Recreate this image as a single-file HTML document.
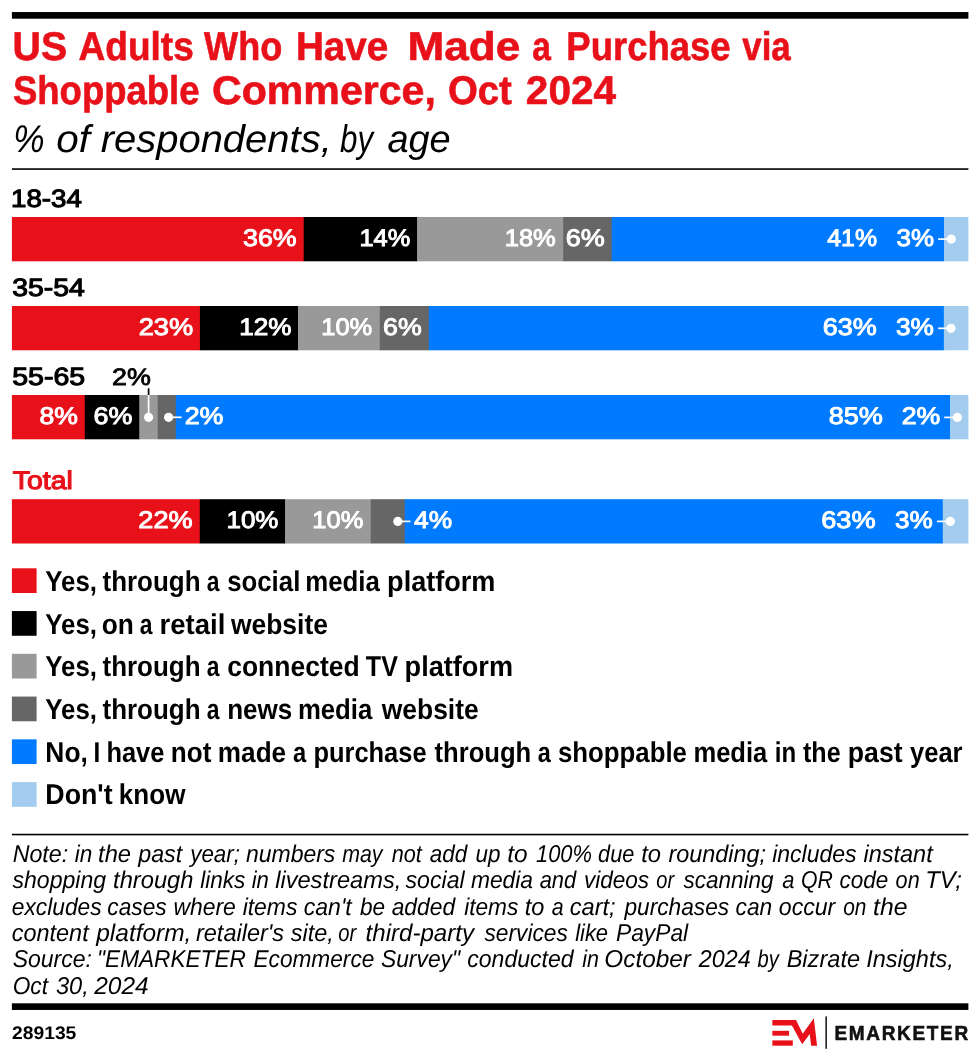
<!DOCTYPE html>
<html lang="en"><head><meta charset="utf-8"><title>US Adults Who Have Made a Purchase via Shoppable Commerce, Oct 2024</title>
<style>
html,body{margin:0;padding:0;background:#fff;}
svg{display:block;font-family:"Liberation Sans", sans-serif;}
text{white-space:pre;text-rendering:geometricPrecision;}
</style></head><body>
<svg width="980" height="1059" viewBox="0 0 980 1059">
<rect width="980" height="1059" fill="#fff"/>
<rect x="11.90" y="12.05" width="956.50" height="6.65" fill="#000"/>
<rect x="11.90" y="168.25" width="956.50" height="1.60" fill="#000"/>
<rect x="11.90" y="833.75" width="956.50" height="1.60" fill="#000"/>
<rect x="11.90" y="1003.30" width="956.50" height="6.65" fill="#000"/>
<rect x="11.90" y="217.00" width="292.11" height="44.30" fill="#e8111a"/>
<rect x="303.71" y="217.00" width="113.78" height="44.30" fill="#000"/>
<rect x="417.20" y="217.00" width="146.21" height="44.30" fill="#999999"/>
<rect x="563.10" y="217.00" width="48.94" height="44.30" fill="#666666"/>
<rect x="611.74" y="217.00" width="332.64" height="44.30" fill="#007bff"/>
<rect x="944.08" y="217.00" width="24.32" height="44.30" fill="#a3ccee"/>
<rect x="11.90" y="306.00" width="188.33" height="44.30" fill="#e8111a"/>
<rect x="199.93" y="306.00" width="98.40" height="44.30" fill="#000"/>
<rect x="298.03" y="306.00" width="82.05" height="44.30" fill="#999999"/>
<rect x="379.78" y="306.00" width="49.35" height="44.30" fill="#666666"/>
<rect x="428.84" y="306.00" width="515.34" height="44.30" fill="#007bff"/>
<rect x="943.87" y="306.00" width="24.53" height="44.30" fill="#a3ccee"/>
<rect x="11.90" y="395.00" width="73.18" height="44.30" fill="#e8111a"/>
<rect x="84.78" y="395.00" width="54.96" height="44.30" fill="#000"/>
<rect x="139.43" y="395.00" width="18.52" height="44.30" fill="#999999"/>
<rect x="157.65" y="395.00" width="18.52" height="44.30" fill="#666666"/>
<rect x="175.87" y="395.00" width="774.61" height="44.30" fill="#007bff"/>
<rect x="950.18" y="395.00" width="18.22" height="44.30" fill="#a3ccee"/>
<rect x="11.90" y="499.20" width="188.18" height="44.30" fill="#e8111a"/>
<rect x="199.78" y="499.20" width="85.70" height="44.30" fill="#000"/>
<rect x="285.19" y="499.20" width="85.70" height="44.30" fill="#999999"/>
<rect x="370.59" y="499.20" width="34.46" height="44.30" fill="#666666"/>
<rect x="404.75" y="499.20" width="538.33" height="44.30" fill="#007bff"/>
<rect x="942.78" y="499.20" width="25.62" height="44.30" fill="#a3ccee"/>
<line x1="938.10" y1="239.10" x2="951.30" y2="239.10" stroke="#fff" stroke-width="1.7"/>
<circle cx="951.30" cy="239.10" r="4.60" fill="#fff"/>
<line x1="938.10" y1="328.30" x2="951.00" y2="328.30" stroke="#fff" stroke-width="1.7"/>
<circle cx="951.00" cy="328.30" r="4.60" fill="#fff"/>
<line x1="148.60" y1="388.20" x2="148.60" y2="395.00" stroke="#000" stroke-width="1.7"/>
<line x1="148.60" y1="395.00" x2="148.60" y2="417.30" stroke="#fff" stroke-width="1.7"/>
<circle cx="148.60" cy="417.30" r="4.60" fill="#fff"/>
<line x1="168.60" y1="417.30" x2="181.60" y2="417.30" stroke="#fff" stroke-width="1.7"/>
<circle cx="168.60" cy="417.30" r="4.60" fill="#fff"/>
<line x1="944.20" y1="417.40" x2="957.40" y2="417.40" stroke="#fff" stroke-width="1.7"/>
<circle cx="957.40" cy="417.40" r="4.60" fill="#fff"/>
<line x1="397.80" y1="521.40" x2="410.50" y2="521.40" stroke="#fff" stroke-width="1.7"/>
<circle cx="397.80" cy="521.40" r="4.60" fill="#fff"/>
<line x1="937.00" y1="521.40" x2="950.30" y2="521.40" stroke="#fff" stroke-width="1.7"/>
<circle cx="950.30" cy="521.40" r="4.60" fill="#fff"/>
<rect x="11.90" y="568.30" width="24.70" height="24.70" fill="#e8111a"/>
<rect x="11.90" y="611.06" width="24.70" height="24.70" fill="#000"/>
<rect x="11.90" y="653.82" width="24.70" height="24.70" fill="#999999"/>
<rect x="11.90" y="696.58" width="24.70" height="24.70" fill="#666666"/>
<rect x="11.90" y="739.34" width="24.70" height="24.70" fill="#007bff"/>
<rect x="11.90" y="782.10" width="24.70" height="24.70" fill="#a3ccee"/>
<polygon fill="#e8111a" points="772.35,1020.04 796.02,1020.04 802.71,1033.67 813.82,1018.16 817.08,1045.67 811.12,1045.67 809.73,1034.08 802.14,1044.29 791.94,1025.51 772.35,1025.51"/>
<rect x="772.35" y="1030.80" width="16.75" height="4.90" fill="#e8111a"/>
<rect x="772.35" y="1040.40" width="20.45" height="5.30" fill="#e8111a"/>
<rect x="825.40" y="1016.40" width="1.50" height="32.40" fill="#111"/>
<text transform="translate(12.55 60.10) scale(0.9779 1)" style="font-size:40.11px;font-weight:bold;" fill="#e8111a" stroke="#e8111a" stroke-width="0.6">US </text>
<text transform="translate(78.50 60.10) scale(0.9235 1)" style="font-size:40.11px;font-weight:bold;" fill="#e8111a" stroke="#e8111a" stroke-width="0.6">Adults </text>
<text transform="translate(204.07 60.10) scale(0.8996 1)" style="font-size:40.11px;font-weight:bold;" fill="#e8111a" stroke="#e8111a" stroke-width="0.6">Who </text>
<text transform="translate(295.88 60.10) scale(0.9625 1)" style="font-size:40.11px;font-weight:bold;" fill="#e8111a" stroke="#e8111a" stroke-width="0.6">Have </text>
<text transform="translate(407.57 60.10) scale(1.0992 1)" style="font-size:40.11px;font-weight:bold;" fill="#e8111a" stroke="#e8111a" stroke-width="0.6">Made </text>
<text transform="translate(532.23 60.10) scale(0.8343 1)" style="font-size:40.11px;font-weight:bold;" fill="#e8111a" stroke="#e8111a" stroke-width="0.6">a </text>
<text transform="translate(566.29 60.10) scale(0.9100 1)" style="font-size:40.11px;font-weight:bold;" fill="#e8111a" stroke="#e8111a" stroke-width="0.6">Purchase </text>
<text transform="translate(742.26 60.10) scale(0.8691 1)" style="font-size:40.11px;font-weight:bold;" fill="#e8111a" stroke="#e8111a" stroke-width="0.6">via</text>
<text transform="translate(13.00 104.30) scale(0.9094 1)" style="font-size:40.11px;font-weight:bold;" fill="#e8111a" stroke="#e8111a" stroke-width="0.6">Shoppable </text>
<text transform="translate(212.02 104.30) scale(1.0248 1)" style="font-size:40.11px;font-weight:bold;" fill="#e8111a" stroke="#e8111a" stroke-width="0.6">Commerce, </text>
<text transform="translate(447.89 104.30) scale(0.9574 1)" style="font-size:40.11px;font-weight:bold;" fill="#e8111a" stroke="#e8111a" stroke-width="0.6">Oct </text>
<text transform="translate(525.84 104.30) scale(1.0109 1)" style="font-size:40.11px;font-weight:bold;" fill="#e8111a" stroke="#e8111a" stroke-width="0.6">2024</text>
<text transform="translate(13.30 152.00) scale(0.9159 1)" style="font-size:38.5px;font-style:italic;" fill="#000">% </text>
<text transform="translate(56.24 152.00) scale(1.0477 1)" style="font-size:38.5px;font-style:italic;" fill="#000">of </text>
<text transform="translate(100.68 152.00) scale(1.0380 1)" style="font-size:38.5px;font-style:italic;" fill="#000">respondents, </text>
<text transform="translate(340.00 152.00) scale(0.8127 1)" style="font-size:38.5px;font-style:italic;" fill="#000">by </text>
<text transform="translate(387.41 152.00) scale(0.9844 1)" style="font-size:38.5px;font-style:italic;" fill="#000">age</text>
<text transform="translate(11.08 206.70) scale(1.1030 1)" style="font-size:25.1px;" fill="#000" stroke="#000" stroke-width="1.1">18-34</text>
<text transform="translate(12.24 295.70) scale(1.1301 1)" style="font-size:25.1px;" fill="#000" stroke="#000" stroke-width="1.1">35-54</text>
<text transform="translate(12.23 384.70) scale(1.1371 1)" style="font-size:25.1px;" fill="#000" stroke="#000" stroke-width="1.1">55-65</text>
<text transform="translate(12.77 488.75) scale(1.1215 1)" style="font-size:25.32px;" fill="#e8111a" stroke="#e8111a" stroke-width="1.1">Total</text>
<text transform="translate(242.99 246.03) scale(1.1153 1)" style="font-size:24.0px;" fill="#fff" stroke="#fff" stroke-width="0.95">36%</text>
<text transform="translate(359.52 246.03) scale(1.0562 1)" style="font-size:24.0px;" fill="#fff" stroke="#fff" stroke-width="0.95">14%</text>
<text transform="translate(504.71 246.03) scale(1.0626 1)" style="font-size:24.0px;" fill="#fff" stroke="#fff" stroke-width="0.95">18%</text>
<text transform="translate(565.77 246.03) scale(1.1243 1)" style="font-size:24.0px;" fill="#fff" stroke="#fff" stroke-width="0.95">6%</text>
<text transform="translate(827.30 246.03) scale(1.0356 1)" style="font-size:24.0px;" fill="#fff" stroke="#fff" stroke-width="0.95">41%</text>
<text transform="translate(896.50 246.03) scale(1.0798 1)" style="font-size:24.0px;" fill="#fff" stroke="#fff" stroke-width="0.95">3%</text>
<text transform="translate(138.66 335.02) scale(1.1348 1)" style="font-size:24.0px;" fill="#fff" stroke="#fff" stroke-width="0.95">23%</text>
<text transform="translate(239.18 335.02) scale(1.0883 1)" style="font-size:24.0px;" fill="#fff" stroke="#fff" stroke-width="0.95">12%</text>
<text transform="translate(321.21 335.02) scale(1.0626 1)" style="font-size:24.0px;" fill="#fff" stroke="#fff" stroke-width="0.95">10%</text>
<text transform="translate(383.08 335.02) scale(1.1125 1)" style="font-size:24.0px;" fill="#fff" stroke="#fff" stroke-width="0.95">6%</text>
<text transform="translate(822.77 335.02) scale(1.1242 1)" style="font-size:24.0px;" fill="#fff" stroke="#fff" stroke-width="0.95">63%</text>
<text transform="translate(896.00 335.02) scale(1.0915 1)" style="font-size:24.0px;" fill="#fff" stroke="#fff" stroke-width="0.95">3%</text>
<text transform="translate(39.50 424.02) scale(1.1061 1)" style="font-size:24.0px;" fill="#fff" stroke="#fff" stroke-width="0.95">8%</text>
<text transform="translate(93.57 424.02) scale(1.1214 1)" style="font-size:24.0px;" fill="#fff" stroke="#fff" stroke-width="0.95">6%</text>
<text transform="translate(184.67 424.02) scale(1.1184 1)" style="font-size:24.0px;" fill="#fff" stroke="#fff" stroke-width="0.95">2%</text>
<text transform="translate(828.69 424.02) scale(1.1258 1)" style="font-size:24.0px;" fill="#fff" stroke="#fff" stroke-width="0.95">85%</text>
<text transform="translate(901.68 424.02) scale(1.1125 1)" style="font-size:24.0px;" fill="#fff" stroke="#fff" stroke-width="0.95">2%</text>
<text transform="translate(112.09 385.00) scale(1.1301 1)" style="font-size:23.79px;" fill="#000" stroke="#000" stroke-width="0.8">2%</text>
<text transform="translate(138.37 528.23) scale(1.1284 1)" style="font-size:24.0px;" fill="#fff" stroke="#fff" stroke-width="0.95">22%</text>
<text transform="translate(226.49 528.23) scale(1.0819 1)" style="font-size:24.0px;" fill="#fff" stroke="#fff" stroke-width="0.95">10%</text>
<text transform="translate(312.31 528.23) scale(1.0626 1)" style="font-size:24.0px;" fill="#fff" stroke="#fff" stroke-width="0.95">10%</text>
<text transform="translate(414.11 528.23) scale(1.0970 1)" style="font-size:24.0px;" fill="#fff" stroke="#fff" stroke-width="0.95">4%</text>
<text transform="translate(821.27 528.23) scale(1.1305 1)" style="font-size:24.0px;" fill="#fff" stroke="#fff" stroke-width="0.95">63%</text>
<text transform="translate(894.90 528.23) scale(1.0857 1)" style="font-size:24.0px;" fill="#fff" stroke="#fff" stroke-width="0.95">3%</text>
<text transform="translate(45.30 590.80) scale(0.9038 1)" style="font-size:28.59px;font-weight:bold;" fill="#000">Yes, </text>
<text transform="translate(102.50 590.80) scale(0.9082 1)" style="font-size:28.59px;font-weight:bold;" fill="#000">through </text>
<text transform="translate(206.64 590.80) scale(0.7995 1)" style="font-size:28.59px;font-weight:bold;" fill="#000">a </text>
<text transform="translate(227.19 590.80) scale(0.9023 1)" style="font-size:28.59px;font-weight:bold;" fill="#000">social </text>
<text transform="translate(305.19 590.80) scale(0.9034 1)" style="font-size:28.59px;font-weight:bold;" fill="#000">media </text>
<text transform="translate(387.11 590.80) scale(0.9474 1)" style="font-size:28.59px;font-weight:bold;" fill="#000">platform</text>
<text transform="translate(45.30 633.52) scale(0.9038 1)" style="font-size:28.59px;font-weight:bold;" fill="#000">Yes, </text>
<text transform="translate(101.68 633.52) scale(0.9188 1)" style="font-size:28.59px;font-weight:bold;" fill="#000">on </text>
<text transform="translate(139.64 633.52) scale(0.7995 1)" style="font-size:28.59px;font-weight:bold;" fill="#000">a </text>
<text transform="translate(159.58 633.52) scale(0.9636 1)" style="font-size:28.59px;font-weight:bold;" fill="#000">retail </text>
<text transform="translate(230.91 633.52) scale(0.9254 1)" style="font-size:28.59px;font-weight:bold;" fill="#000">website</text>
<text transform="translate(45.30 676.24) scale(0.9038 1)" style="font-size:28.59px;font-weight:bold;" fill="#000">Yes, </text>
<text transform="translate(102.50 676.24) scale(0.9082 1)" style="font-size:28.59px;font-weight:bold;" fill="#000">through </text>
<text transform="translate(206.64 676.24) scale(0.7995 1)" style="font-size:28.59px;font-weight:bold;" fill="#000">a </text>
<text transform="translate(227.17 676.24) scale(0.9269 1)" style="font-size:28.59px;font-weight:bold;" fill="#000">connected </text>
<text transform="translate(365.80 676.24) scale(0.8780 1)" style="font-size:28.59px;font-weight:bold;" fill="#000">TV </text>
<text transform="translate(404.61 676.24) scale(0.9483 1)" style="font-size:28.59px;font-weight:bold;" fill="#000">platform</text>
<text transform="translate(45.30 718.96) scale(0.9038 1)" style="font-size:28.59px;font-weight:bold;" fill="#000">Yes, </text>
<text transform="translate(102.50 718.96) scale(0.9082 1)" style="font-size:28.59px;font-weight:bold;" fill="#000">through </text>
<text transform="translate(206.64 718.96) scale(0.7995 1)" style="font-size:28.59px;font-weight:bold;" fill="#000">a </text>
<text transform="translate(227.17 718.96) scale(0.9116 1)" style="font-size:28.59px;font-weight:bold;" fill="#000">news </text>
<text transform="translate(297.89 718.96) scale(0.9010 1)" style="font-size:28.59px;font-weight:bold;" fill="#000">media </text>
<text transform="translate(381.71 718.96) scale(0.9254 1)" style="font-size:28.59px;font-weight:bold;" fill="#000">website</text>
<text transform="translate(45.35 761.68) scale(0.9230 1)" style="font-size:28.59px;font-weight:bold;" fill="#000">No, </text>
<text transform="translate(93.48 761.68) scale(0.8506 1)" style="font-size:28.59px;font-weight:bold;" fill="#000">I </text>
<text transform="translate(106.41 761.68) scale(0.8904 1)" style="font-size:28.59px;font-weight:bold;" fill="#000">have </text>
<text transform="translate(170.87 761.68) scale(0.9125 1)" style="font-size:28.59px;font-weight:bold;" fill="#000">not </text>
<text transform="translate(217.87 761.68) scale(0.9143 1)" style="font-size:28.59px;font-weight:bold;" fill="#000">made </text>
<text transform="translate(292.93 761.68) scale(0.8315 1)" style="font-size:28.59px;font-weight:bold;" fill="#000">a </text>
<text transform="translate(313.41 761.68) scale(0.8907 1)" style="font-size:28.59px;font-weight:bold;" fill="#000">purchase </text>
<text transform="translate(434.50 761.68) scale(0.8960 1)" style="font-size:28.59px;font-weight:bold;" fill="#000">through </text>
<text transform="translate(537.63 761.68) scale(0.8187 1)" style="font-size:28.59px;font-weight:bold;" fill="#000">a </text>
<text transform="translate(557.99 761.68) scale(0.9020 1)" style="font-size:28.59px;font-weight:bold;" fill="#000">shoppable </text>
<text transform="translate(693.40 761.68) scale(0.8948 1)" style="font-size:28.59px;font-weight:bold;" fill="#000">media </text>
<text transform="translate(774.80 761.68) scale(0.8409 1)" style="font-size:28.59px;font-weight:bold;" fill="#000">in </text>
<text transform="translate(803.00 761.68) scale(0.8773 1)" style="font-size:28.59px;font-weight:bold;" fill="#000">the </text>
<text transform="translate(847.83 761.68) scale(0.9321 1)" style="font-size:28.59px;font-weight:bold;" fill="#000">past </text>
<text transform="translate(910.00 761.68) scale(0.8935 1)" style="font-size:28.59px;font-weight:bold;" fill="#000">year</text>
<text transform="translate(45.33 804.40) scale(0.9362 1)" style="font-size:28.59px;font-weight:bold;" fill="#000">Don't </text>
<text transform="translate(118.87 804.40) scale(0.9107 1)" style="font-size:28.59px;font-weight:bold;" fill="#000">know</text>
<text transform="translate(12.64 861.60) scale(0.9549 1)" style="font-size:24.32px;font-style:italic;" fill="#000">Note: </text>
<text transform="translate(74.65 861.60) scale(0.9281 1)" style="font-size:24.32px;font-style:italic;" fill="#000">in </text>
<text transform="translate(98.06 861.60) scale(0.9771 1)" style="font-size:24.32px;font-style:italic;" fill="#000">the </text>
<text transform="translate(138.23 861.60) scale(0.9565 1)" style="font-size:24.32px;font-style:italic;" fill="#000">past </text>
<text transform="translate(190.20 861.60) scale(0.9197 1)" style="font-size:24.32px;font-style:italic;" fill="#000">year; </text>
<text transform="translate(245.94 861.60) scale(0.9450 1)" style="font-size:24.32px;font-style:italic;" fill="#000">numbers </text>
<text transform="translate(342.17 861.60) scale(0.8771 1)" style="font-size:24.32px;font-style:italic;" fill="#000">may </text>
<text transform="translate(391.66 861.60) scale(0.8900 1)" style="font-size:24.32px;font-style:italic;" fill="#000">not </text>
<text transform="translate(429.65 861.60) scale(0.9243 1)" style="font-size:24.32px;font-style:italic;" fill="#000">add </text>
<text transform="translate(475.60 861.60) scale(0.9227 1)" style="font-size:24.32px;font-style:italic;" fill="#000">up </text>
<text transform="translate(507.24 861.60) scale(1.0044 1)" style="font-size:24.32px;font-style:italic;" fill="#000">to </text>
<text transform="translate(535.96 861.60) scale(0.9002 1)" style="font-size:24.32px;font-style:italic;" fill="#000">100% </text>
<text transform="translate(598.12 861.60) scale(0.8926 1)" style="font-size:24.32px;font-style:italic;" fill="#000">due </text>
<text transform="translate(641.26 861.60) scale(0.9780 1)" style="font-size:24.32px;font-style:italic;" fill="#000">to </text>
<text transform="translate(668.43 861.60) scale(0.9636 1)" style="font-size:24.32px;font-style:italic;" fill="#000">rounding; </text>
<text transform="translate(772.14 861.60) scale(0.9472 1)" style="font-size:24.32px;font-style:italic;" fill="#000">includes </text>
<text transform="translate(863.43 861.60) scale(0.9665 1)" style="font-size:24.32px;font-style:italic;" fill="#000">instant</text>
<text transform="translate(12.50 888.05) scale(0.9487 1)" style="font-size:24.32px;font-style:italic;" fill="#000">shopping </text>
<text transform="translate(113.06 888.05) scale(0.9748 1)" style="font-size:24.32px;font-style:italic;" fill="#000">through </text>
<text transform="translate(200.15 888.05) scale(0.9292 1)" style="font-size:24.32px;font-style:italic;" fill="#000">links </text>
<text transform="translate(251.65 888.05) scale(0.9110 1)" style="font-size:24.32px;font-style:italic;" fill="#000">in </text>
<text transform="translate(275.13 888.05) scale(0.9726 1)" style="font-size:24.32px;font-style:italic;" fill="#000">livestreams, </text>
<text transform="translate(405.50 888.05) scale(0.9514 1)" style="font-size:24.32px;font-style:italic;" fill="#000">social </text>
<text transform="translate(470.94 888.05) scale(0.9379 1)" style="font-size:24.32px;font-style:italic;" fill="#000">media </text>
<text transform="translate(539.66 888.05) scale(0.9000 1)" style="font-size:24.32px;font-style:italic;" fill="#000">and </text>
<text transform="translate(583.94 888.05) scale(0.9276 1)" style="font-size:24.32px;font-style:italic;" fill="#000">videos </text>
<text transform="translate(656.37 888.05) scale(0.8225 1)" style="font-size:24.32px;font-style:italic;" fill="#000">or </text>
<text transform="translate(683.50 888.05) scale(0.9261 1)" style="font-size:24.32px;font-style:italic;" fill="#000">scanning </text>
<text transform="translate(782.16 888.05) scale(0.9011 1)" style="font-size:24.32px;font-style:italic;" fill="#000">a </text>
<text transform="translate(801.00 888.05) scale(0.8745 1)" style="font-size:24.32px;font-style:italic;" fill="#000">QR </text>
<text transform="translate(839.60 888.05) scale(0.9246 1)" style="font-size:24.32px;font-style:italic;" fill="#000">code </text>
<text transform="translate(895.62 888.05) scale(0.8891 1)" style="font-size:24.32px;font-style:italic;" fill="#000">on </text>
<text transform="translate(925.13 888.05) scale(0.9823 1)" style="font-size:24.32px;font-style:italic;" fill="#000">TV;</text>
<text transform="translate(11.79 914.50) scale(0.9363 1)" style="font-size:24.32px;font-style:italic;" fill="#000">excludes </text>
<text transform="translate(107.29 914.50) scale(0.9344 1)" style="font-size:24.32px;font-style:italic;" fill="#000">cases </text>
<text transform="translate(173.43 914.50) scale(0.9427 1)" style="font-size:24.32px;font-style:italic;" fill="#000">where </text>
<text transform="translate(242.64 914.50) scale(0.9417 1)" style="font-size:24.32px;font-style:italic;" fill="#000">items </text>
<text transform="translate(303.78 914.50) scale(0.9469 1)" style="font-size:24.32px;font-style:italic;" fill="#000">can't </text>
<text transform="translate(360.00 914.50) scale(0.9264 1)" style="font-size:24.32px;font-style:italic;" fill="#000">be </text>
<text transform="translate(391.64 914.50) scale(0.9389 1)" style="font-size:24.32px;font-style:italic;" fill="#000">added </text>
<text transform="translate(464.15 914.50) scale(0.9330 1)" style="font-size:24.32px;font-style:italic;" fill="#000">items </text>
<text transform="translate(524.76 914.50) scale(0.9674 1)" style="font-size:24.32px;font-style:italic;" fill="#000">to </text>
<text transform="translate(551.67 914.50) scale(0.8772 1)" style="font-size:24.32px;font-style:italic;" fill="#000">a </text>
<text transform="translate(569.76 914.50) scale(0.9703 1)" style="font-size:24.32px;font-style:italic;" fill="#000">cart; </text>
<text transform="translate(624.51 914.50) scale(0.9326 1)" style="font-size:24.32px;font-style:italic;" fill="#000">purchases </text>
<text transform="translate(735.59 914.50) scale(0.9342 1)" style="font-size:24.32px;font-style:italic;" fill="#000">can </text>
<text transform="translate(778.78 914.50) scale(0.9509 1)" style="font-size:24.32px;font-style:italic;" fill="#000">occur </text>
<text transform="translate(843.15 914.50) scale(0.8575 1)" style="font-size:24.32px;font-style:italic;" fill="#000">on </text>
<text transform="translate(873.03 914.50) scale(1.0172 1)" style="font-size:24.32px;font-style:italic;" fill="#000">the</text>
<text transform="translate(11.77 940.95) scale(0.9642 1)" style="font-size:24.32px;font-style:italic;" fill="#000">content </text>
<text transform="translate(96.26 940.95) scale(1.0055 1)" style="font-size:24.32px;font-style:italic;" fill="#000">platform, </text>
<text transform="translate(195.93 940.95) scale(0.9681 1)" style="font-size:24.32px;font-style:italic;" fill="#000">retailer's </text>
<text transform="translate(290.80 940.95) scale(0.9637 1)" style="font-size:24.32px;font-style:italic;" fill="#000">site, </text>
<text transform="translate(338.17 940.95) scale(0.8316 1)" style="font-size:24.32px;font-style:italic;" fill="#000">or </text>
<text transform="translate(365.55 940.95) scale(0.9906 1)" style="font-size:24.32px;font-style:italic;" fill="#000">third-party </text>
<text transform="translate(484.50 940.95) scale(0.9345 1)" style="font-size:24.32px;font-style:italic;" fill="#000">services </text>
<text transform="translate(575.16 940.95) scale(0.9012 1)" style="font-size:24.32px;font-style:italic;" fill="#000">like </text>
<text transform="translate(615.94 940.95) scale(0.9373 1)" style="font-size:24.32px;font-style:italic;" fill="#000">PayPal</text>
<text transform="translate(12.64 967.40) scale(0.9461 1)" style="font-size:24.32px;font-style:italic;" fill="#000">Source: </text>
<text transform="translate(97.03 967.40) scale(0.9307 1)" style="font-size:24.32px;font-style:italic;" fill="#000">"EMARKETER </text>
<text transform="translate(253.45 967.40) scale(0.9320 1)" style="font-size:24.32px;font-style:italic;" fill="#000">Ecommerce </text>
<text transform="translate(380.94 967.40) scale(0.9391 1)" style="font-size:24.32px;font-style:italic;" fill="#000">Survey" </text>
<text transform="translate(467.28 967.40) scale(0.9476 1)" style="font-size:24.32px;font-style:italic;" fill="#000">conducted </text>
<text transform="translate(582.16 967.40) scale(0.8825 1)" style="font-size:24.32px;font-style:italic;" fill="#000">in </text>
<text transform="translate(604.36 967.40) scale(1.0013 1)" style="font-size:24.32px;font-style:italic;" fill="#000">October </text>
<text transform="translate(698.86 967.40) scale(0.9559 1)" style="font-size:24.32px;font-style:italic;" fill="#000">2024 </text>
<text transform="translate(757.50 967.40) scale(0.8270 1)" style="font-size:24.32px;font-style:italic;" fill="#000">by </text>
<text transform="translate(786.63 967.40) scale(0.9705 1)" style="font-size:24.32px;font-style:italic;" fill="#000">Bizrate </text>
<text transform="translate(866.27 967.40) scale(0.9652 1)" style="font-size:24.32px;font-style:italic;" fill="#000">Insights,</text>
<text transform="translate(12.74 993.85) scale(0.9324 1)" style="font-size:24.32px;font-style:italic;" fill="#000">Oct </text>
<text transform="translate(55.93 993.85) scale(0.9724 1)" style="font-size:24.32px;font-style:italic;" fill="#000">30, </text>
<text transform="translate(94.18 993.85) scale(1.0060 1)" style="font-size:24.32px;font-style:italic;" fill="#000">2024</text>
<text transform="translate(12.00 1039.10) scale(1.0601 1)" style="font-size:18.2px;font-weight:bold;" fill="#000">289135</text>
<text transform="translate(834.39 1039.60) scale(0.9348 1)" style="font-size:20.34px;font-weight:bold;letter-spacing:1.8px;" fill="#111" stroke="#111" stroke-width="0.6">EMARKETER</text>
</svg>
</body></html>
